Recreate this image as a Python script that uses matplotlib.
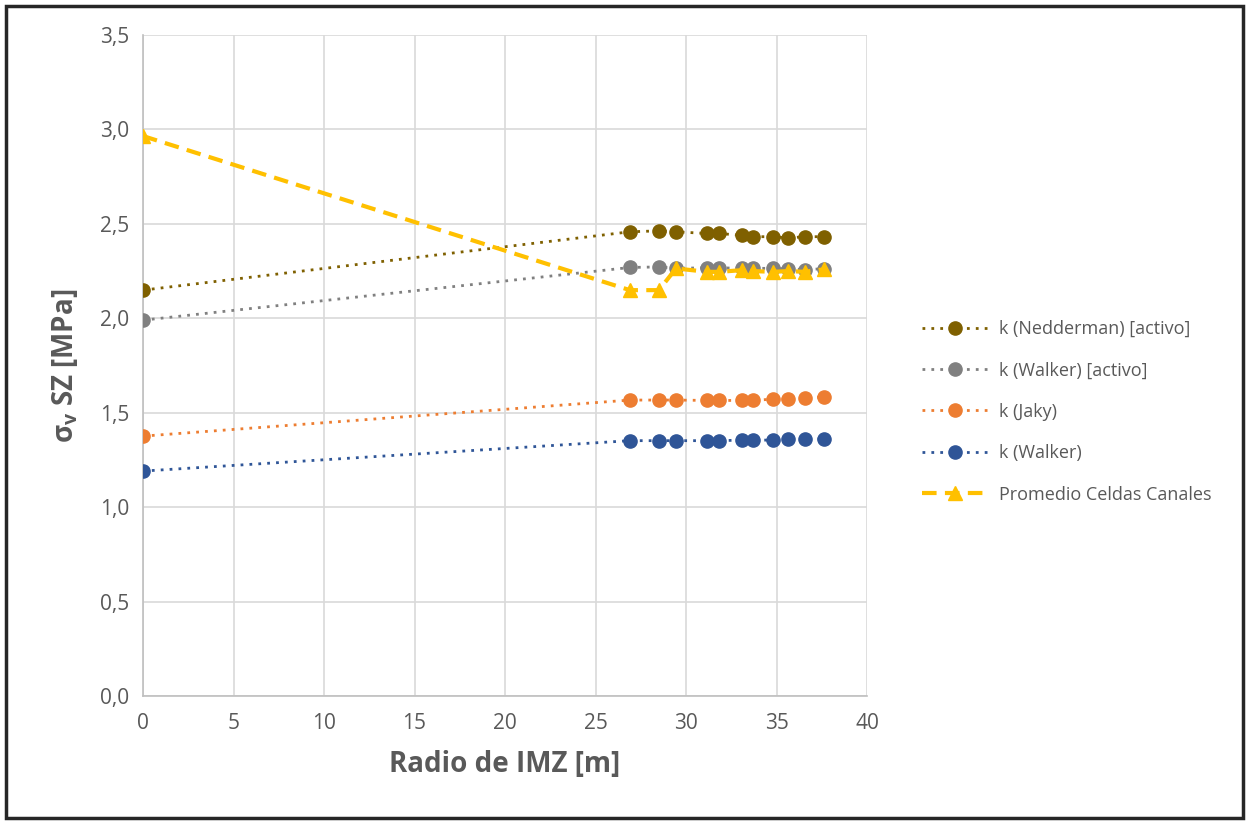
import matplotlib
matplotlib.use("Agg")
import matplotlib.pyplot as plt
from matplotlib.patches import Rectangle

plt.rcParams["font.family"] = ["Open Sans", "DejaVu Sans"]

# Radius of the IMZ [m]
radio = [0.0, 26.9, 28.5, 29.45, 31.15, 31.85, 33.1, 33.7, 34.8, 35.65, 36.55, 37.6]

nedderman_activo = [2.149, 2.458, 2.463, 2.458, 2.449, 2.449, 2.439, 2.432, 2.432, 2.425, 2.432, 2.432]
walker_activo = [1.99, 2.269, 2.272, 2.265, 2.267, 2.267, 2.265, 2.265, 2.264, 2.262, 2.258, 2.262]
jaky = [1.376, 1.567, 1.567, 1.567, 1.565, 1.565, 1.565, 1.565, 1.572, 1.572, 1.580, 1.583]
walker = [1.191, 1.352, 1.352, 1.352, 1.352, 1.352, 1.355, 1.355, 1.355, 1.361, 1.361, 1.361]
promedio_canales = [2.965, 2.149, 2.149, 2.264, 2.246, 2.246, 2.255, 2.250, 2.246, 2.250, 2.246, 2.259]

series = [
    ("k (Nedderman) [activo]", nedderman_activo, "#7f6000"),
    ("k (Walker) [activo]", walker_activo, "#808080"),
    ("k (Jaky)", jaky, "#ed7d31"),
    ("k (Walker)", walker, "#2f5597"),
]

fig = plt.figure(figsize=(12.46, 8.23), dpi=100)
ax = fig.add_axes([143 / 1246, 1 - 696 / 823, (867 - 143) / 1246, (696 - 35) / 823])

for label, vals, color in series:
    ax.plot(radio, vals, linestyle=(0, (1, 2.2)), linewidth=2.0, color=color,
            marker="o", markersize=9.5, label=label, zorder=3)

ax.plot(radio, promedio_canales, linestyle=(0, (3.5, 2)), linewidth=3.0, color="#ffc000",
        marker="^", markersize=9.5, label="Promedio Celdas Canales", zorder=4)

ax.set_xlim(0, 40)
ax.set_ylim(0, 3.5)
ax.set_xticks(range(0, 41, 5))
ax.set_yticks([i * 0.5 for i in range(8)])
ax.set_yticklabels([f"{i * 0.5:.1f}".replace(".", ",") for i in range(8)])
ax.grid(True, color="#d9d9d9", linewidth=1.2, zorder=0)
ax.set_axisbelow(True)
for side in ["top", "right"]:
    ax.spines[side].set_visible(False)
for side in ["left", "bottom"]:
    ax.spines[side].set_color("#bfbfbf")
    ax.spines[side].set_linewidth(1.2)
ax.tick_params(axis="both", length=0, labelsize=15, labelcolor="#595959")
ax.tick_params(axis="x", pad=12)
ax.tick_params(axis="y", pad=10)

ax.set_xlabel("Radio de IMZ [m]", fontsize=20, fontweight="bold", color="#595959", labelpad=12)
ax.set_ylabel(r"σ$_\mathregular{v}$ SZ [MPa]", fontsize=20, fontweight="bold", color="#595959", labelpad=14)

leg = ax.legend(loc="center left", bbox_to_anchor=(1.076, 0.43), frameon=False,
                borderaxespad=0, borderpad=0,
                fontsize=13, labelcolor="#595959", handlelength=3.7,
                labelspacing=1.3, handletextpad=0.55)

fig.patches.append(Rectangle((6 / 1246, 5 / 823), (1243 - 6) / 1246, (817 - 5) / 823,
                             transform=fig.transFigure, fill=False,
                             edgecolor="#262626", linewidth=2.5))

fig.savefig("out.png", dpi=100)
